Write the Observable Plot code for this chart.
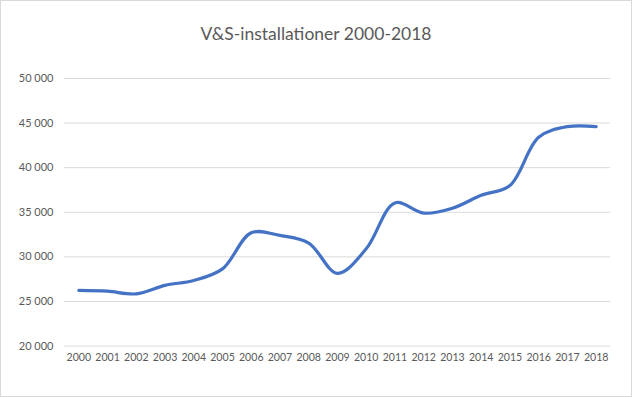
<!DOCTYPE html>
<html>
<head>
<meta charset="utf-8">
<script src="https://cdn.jsdelivr.net/npm/d3@7"></script>
<script src="https://cdn.jsdelivr.net/npm/@observablehq/plot@0.6"></script>
<style>
  html, body { margin: 0; padding: 0; background: #fff; }
  #chart { width: 632px; height: 397px; box-sizing: border-box; border: 1px solid #d9d9d9; position: relative; overflow: hidden; font-family: Lato, "Open Sans", sans-serif; }
  #title { position: absolute; left: 0; top: 0; width: 630px; height: 60px; text-align: center; line-height: 66px; font-size: 17.5px; color: #595959; }
  #plot { position: absolute; left: -1px; top: 59px; }
</style>
</head>
<body>
<div id="chart">
  <div id="title">V&amp;S-installationer 2000-2018</div>
  <div id="plot"></div>
</div>
<script>
const years = [2000, 2001, 2002, 2003, 2004, 2005, 2006, 2007, 2008, 2009, 2010, 2011, 2012, 2013, 2014, 2015, 2016, 2017, 2018];
const values = [26250, 26150, 25850, 26800, 27350, 28650, 32700, 32400, 31550, 28150, 30900, 36050, 34900, 35450, 36900, 38000, 43400, 44600, 44600];
const yTicks = [20000, 25000, 30000, 35000, 40000, 45000, 50000];

const data = years.map((y, i) => ({year: String(y), value: values[i]}));
const fmt = v => d3.format(",")(v).replace(/,/g, " ");

const plot = Plot.plot({
  width: 632,
  height: 338,
  marginTop: 18,
  marginBottom: 52,
  marginLeft: 64,
  marginRight: 21,
  style: {fontFamily: "Lato, 'Open Sans', sans-serif", fontSize: "10.6px", color: "#595959", background: "transparent"},
  x: {type: "point", domain: years.map(String), padding: 0, round: false, inset: 14.4, label: null, tickSize: 0, tickPadding: 6},
  y: {domain: [20000, 50000], ticks: yTicks, tickFormat: fmt, label: null, tickSize: 0, tickPadding: 11},
  marks: [
    Plot.gridY(yTicks, {stroke: "#d9d9d9", strokeOpacity: 1, strokeWidth: 1}),
    Plot.axisY({ticks: yTicks, tickFormat: fmt, tickSize: 0, tickPadding: 11, label: null, fill: "#595959", fontSize: "11px"}),
    Plot.axisX({tickSize: 0, tickPadding: 7, label: null, fill: "#595959"}),
    Plot.line(data, {x: "year", y: "value", stroke: "#4472C4", strokeWidth: 3.2, curve: "catmull-rom"})
  ]
});
document.getElementById("plot").appendChild(plot);
</script>
</body>
</html>
